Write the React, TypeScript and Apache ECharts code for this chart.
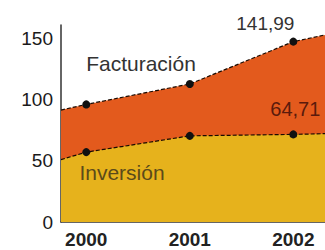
import React, { useEffect, useRef } from "react";
import * as echarts from "echarts";

const years = [2000, 2001, 2002];
const xEdges = [1999.756, 2002.306];
const facturacion = [96.1, 112.8, 147.4];
const facturacionEdges = [91.5, 152.9];
const inversion = [57.1, 70.4, 71.6];
const inversionEdges = [51, 72.2];
const facturacionLabels = ["", "", "141,99"];
const inversionLabels = ["", "", "64,71"];
const yTicks = [0, 50, 100, 150];
const seriesNames = ["Facturación", "Inversión"];

const FONT = "'Liberation Sans', Arial, sans-serif";

function buildData(values: number[], edges: number[], labels: string[], labelStyle: any) {
  const out: any[] = [];
  out.push({ value: [xEdges[0], edges[0]], symbol: "none" });
  years.forEach((y, i) => {
    const item: any = { value: [y, values[i]] };
    if (labels[i]) {
      item.label = { show: true, formatter: labels[i], ...labelStyle };
    }
    out.push(item);
  });
  out.push({ value: [xEdges[1], edges[1]], symbol: "none" });
  return out;
}

export default function App() {
  const ref = useRef<HTMLDivElement>(null);
  useEffect(() => {
    document.body.style.margin = "0";
    if (!ref.current) return;
    const chart = echarts.init(ref.current, null, { renderer: "svg" });
    const lineStyle = { type: [4, 2], color: "#1a0a00", width: 1.2 };
    chart.setOption({
      animation: false,
      grid: { left: 61, right: 0, top: 25, bottom: 28 },
      xAxis: {
        type: "value",
        min: xEdges[0],
        max: xEdges[1],
        axisLine: { show: true, lineStyle: { color: "#333", width: 1.5 } },
        axisTick: { show: false },
        splitLine: { show: false },
        axisLabel: {
          customValues: years,
          formatter: (v: number) => String(v),
          fontSize: 19,
          fontWeight: "bold",
          color: "#222",
          fontFamily: FONT,
          margin: 8,
        },
      },
      yAxis: {
        type: "value",
        min: 0,
        max: 161,
        axisLine: { show: true, lineStyle: { color: "#333", width: 1.5 } },
        axisTick: { show: false },
        splitLine: { show: false },
        axisLabel: {
          customValues: yTicks,
          fontSize: 19,
          color: "#1a1a1a",
          fontFamily: FONT,
          margin: 8,
        },
      },
      series: [
        {
          name: seriesNames[0],
          type: "line",
          data: buildData(facturacion, facturacionEdges, facturacionLabels, {
            position: "top",
            offset: [-28, 0],
            fontSize: 19,
            color: "#333",
            fontFamily: FONT,
          }),
          symbol: "circle",
          symbolSize: 8,
          itemStyle: { color: "#111" },
          lineStyle,
          areaStyle: { color: "#e35a1d", opacity: 1 },
          label: { show: false },
        },
        {
          name: seriesNames[1],
          type: "line",
          data: buildData(inversion, inversionEdges, inversionLabels, {
            position: "top",
            offset: [2, -6],
            fontSize: 20,
            color: "#5a1a0c",
            fontFamily: FONT,
          }),
          symbol: "circle",
          symbolSize: 8,
          itemStyle: { color: "#111" },
          lineStyle,
          areaStyle: { color: "#e6b21c", opacity: 1 },
          label: { show: false },
        },
      ],
      graphic: [
        {
          type: "text",
          x: 141,
          y: 63,
          z: 100,
          style: {
            text: seriesNames[0],
            fontSize: 21,
            fontFamily: FONT,
            fill: "#333",
            align: "center",
            verticalAlign: "middle",
          },
        },
        {
          type: "text",
          x: 122,
          y: 172,
          z: 100,
          style: {
            text: seriesNames[1],
            fontSize: 21,
            fontFamily: FONT,
            fill: "#5b4a1a",
            align: "center",
            verticalAlign: "middle",
          },
        },
      ],
    });
    return () => chart.dispose();
  }, []);
  return <div ref={ref} style={{ width: 325, height: 250 }} />;
}
